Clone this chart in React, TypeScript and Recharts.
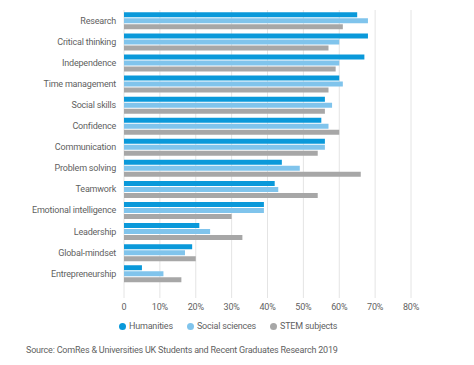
import { BarChart, Bar, XAxis, YAxis, CartesianGrid } from "recharts";

const skills = [
  "Research",
  "Critical thinking",
  "Independence",
  "Time management",
  "Social skills",
  "Confidence",
  "Communication",
  "Problem solving",
  "Teamwork",
  "Emotional intelligence",
  "Leadership",
  "Global-mindset",
  "Entrepreneurship",
];

const humanities = [65, 68, 67, 60, 56, 55, 56, 44, 42, 39, 21, 19, 5];
const socialSciences = [68, 60, 60, 61, 58, 57, 56, 49, 43, 39, 24, 17, 11];
const stem = [61, 57, 59, 57, 56, 60, 54, 66, 54, 30, 33, 20, 16];

const xTicks = [0, 10, 20, 30, 40, 50, 60, 70, 80];

const series = [
  { key: "humanities", name: "Humanities", color: "#0a99da" },
  { key: "social", name: "Social sciences", color: "#80c4ec" },
  { key: "stem", name: "STEM subjects", color: "#a7a7a7" },
];

const data = skills.map((skill, i) => ({
  skill,
  humanities: humanities[i],
  social: socialSciences[i],
  stem: stem[i],
}));

const font = "Roboto, sans-serif";
const textColor = "#5f5f5f";
const tickStyle = { fontSize: 9, fill: textColor, fontFamily: font, letterSpacing: -0.2 };

const App = () => {
  return (
    <div
      style={{
        position: "absolute",
        left: 0,
        top: 0,
        width: 474,
        height: 365,
        background: "#fff",
        fontFamily: font,
      }}
    >
      <BarChart
        width={474}
        height={328}
        data={data}
        layout="vertical"
        margin={{ top: 10, right: 63, bottom: 0, left: 0 }}
        barCategoryGap="11%"
        barGap={1}
      >
        <CartesianGrid horizontal={false} stroke="#e4e4e4" />
        <XAxis
          type="number"
          domain={[0, 80]}
          ticks={xTicks}
          height={30}
          tickFormatter={(v) => (v === 0 ? "0" : `${v}%`)}
          axisLine={false}
          tickLine={false}
          tickSize={4}
          tick={tickStyle}
        />
        <YAxis
          type="category"
          dataKey="skill"
          width={124}
          axisLine={false}
          tickLine={false}
          tickMargin={2}
          padding={{ top: 0, bottom: 14 }}
          tick={tickStyle}
        />
        {series.map((s) => (
          <Bar
            key={s.key}
            dataKey={s.key}
            name={s.name}
            fill={s.color}
            isAnimationActive={false}
          />
        ))}
      </BarChart>
      <div
        style={{
          position: "absolute",
          left: 119,
          top: 321,
          display: "flex",
          fontSize: 9,
          letterSpacing: -0.2,
          color: textColor,
        }}
      >
        {series.map((s) => (
          <div
            key={s.key}
            style={{ display: "flex", alignItems: "center", marginRight: 14 }}
          >
            <span
              style={{
                width: 7,
                height: 7,
                borderRadius: "50%",
                background: s.color,
                display: "inline-block",
                marginRight: 3,
              }}
            />
            {s.name}
          </div>
        ))}
      </div>
      <div
        style={{
          position: "absolute",
          left: 26,
          top: 345,
          fontSize: 9,
          letterSpacing: -0.2,
          color: textColor,
          whiteSpace: "nowrap",
        }}
      >
        Source: ComRes &amp; Universities UK Students and Recent Graduates Research 2019
      </div>
    </div>
  );
};

export default App;
